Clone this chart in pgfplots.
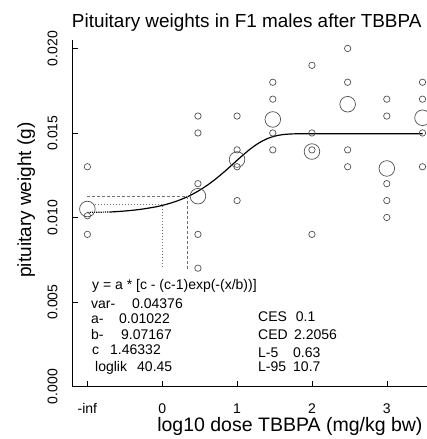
\documentclass[border=0pt]{standalone}
\usepackage{fontspec}
\setmainfont{Liberation Sans}
\usepackage{graphicx}
\usepackage{pgfplots}
\pgfplotsset{compat=1.18}
\definecolor{ptgray}{HTML}{505050}
\definecolor{lngray}{HTML}{707070}
\begin{document}
\begin{tikzpicture}
\begin{axis}[
  at={(0pt,0pt)}, anchor=south west,
  scale only axis, width=354.3pt, height=346.5pt,
  xmin=-1.196, xmax=3.537, ymin=0, ymax=0.0205,
  axis x line*=bottom, axis y line*=left,
  axis line style={line width=1.3pt, -},
  tick align=inside, major tick length=5.5pt,
  tick style={line width=0.6pt, black},
  xtick={-1,0,1,2,3}, xticklabels={-inf,0,1,2,3},
  ytick={0,0.005,0.01,0.015,0.02},
  yticklabels={},
  scaled y ticks=false,
  tick label style={font=\fontsize{14}{16}\selectfont},
  xticklabel style={yshift=-27pt, anchor=base},
  xlabel={log10 dose TBBPA (mg/kg bw)},
  xlabel style={at={(axis description cs:0.613,0)}, yshift=-45pt, anchor=base, font=\fontsize{19.5}{22}\selectfont},
]
% individual observations
\addplot[only marks, mark=o, mark size=3.2pt, mark options={ptgray, line width=0.7pt}] coordinates {
(-1,0.013) (-1,0.0101) (-1,0.009)
(0.477,0.016) (0.477,0.015) (0.477,0.012) (0.477,0.009) (0.477,0.007)
(1,0.016) (1,0.014) (1,0.013) (1,0.011)
(1.477,0.018) (1.477,0.017) (1.477,0.015) (1.477,0.014)
(2,0.019) (2,0.015) (2,0.014) (2,0.009)
(2.477,0.020) (2.477,0.018) (2.477,0.014) (2.477,0.013)
(3,0.017) (3,0.016) (3,0.012) (3,0.011) (3,0.010)
(3.477,0.018) (3.477,0.017) (3.477,0.015) (3.477,0.013)
};
% group means
\addplot[only marks, mark=o, mark size=7.8pt, mark options={ptgray, line width=0.7pt}] coordinates {
(-1,0.0105) (0.477,0.01126) (1,0.01343) (1.477,0.0158) (2,0.0139) (2.477,0.0167) (3,0.0129) (3.477,0.0159)
};
% fitted curve
\addplot[black, line width=1.2pt, densely dotted] coordinates {(-1,0.01030) (-0.7,0.010323)};
\addplot[black, line width=1.2pt, smooth] coordinates {
(-0.7,0.010323) (-0.5,0.010382) (-0.3,0.010475) (-0.1,0.010617) (0,0.010714)
(0.1,0.010834) (0.2,0.010979) (0.3,0.011155) (0.4,0.011365) (0.5,0.011614)
(0.6,0.011902) (0.7,0.012230) (0.8,0.012593) (0.9,0.012982) (1.0,0.013383)
(1.1,0.013773) (1.2,0.014130) (1.3,0.014430) (1.4,0.014658) (1.5,0.014810)
(1.6,0.014896) (1.7,0.014936) (1.8,0.014951) (2.0,0.014955) (3.477,0.014955)
};
% CED lines
\addplot[lngray, line width=0.9pt, dash pattern=on 3pt off 2pt] coordinates {(-1,0.011242) (0.3435,0.011242) (0.3435,0.00698)};
\addplot[lngray, line width=1pt, dotted] coordinates {(-0.9,0.01077) (0,0.01077) (0,0.00698)};
\end{axis}
% y tick labels and y label (rotated with graphicx)
\begin{scope}[every node/.style={anchor=east, inner sep=0pt, font=\fontsize{14}{16}\selectfont}]
\node at (-15pt,0pt) {\rotatebox{90}{0.000}};
\node at (-15pt,84.5pt) {\rotatebox{90}{0.005}};
\node at (-15pt,169pt) {\rotatebox{90}{0.010}};
\node at (-15pt,253.5pt) {\rotatebox{90}{0.015}};
\node at (-15pt,338pt) {\rotatebox{90}{0.020}};
\end{scope}
\node[anchor=east, inner sep=0pt, font=\fontsize{19}{22}\selectfont] at (-37.5pt,186.5pt) {\rotatebox{90}{pituitary weight (g)}};
\begin{scope}[every node/.style={anchor=base west, inner sep=0pt, font=\fontsize{14}{16}\selectfont}]
\node at (19.3pt,96.5pt) {y = a * [c - (c-1)exp(-(x/b))]};
\node at (18.3pt,78pt) {var-}; \node at (59.3pt,78pt) {0.04376};
\node at (18.3pt,62.5pt) {a-}; \node at (46.3pt,62.5pt) {0.01022};
\node at (18.3pt,46.5pt) {b-}; \node at (48.3pt,46.5pt) {9.07167};
\node at (19.3pt,31.5pt) {c}; \node at (37.3pt,31.5pt) {1.46332};
\node at (22.3pt,14.5pt) {loglik}; \node at (64.3pt,14.5pt) {40.45};
\node at (185.3pt,64.5pt) {CES}; \node at (223pt,64.5pt) {0.1};
\node at (185.3pt,46.5pt) {CED}; \node at (221.3pt,46.5pt) {2.2056};
\node at (185.3pt,28.5pt) {L-5}; \node at (220.3pt,28.5pt) {0.63};
\node at (185.3pt,14.5pt) {L-95}; \node at (220.3pt,14.5pt) {10.7};
\end{scope}
\node[anchor=base, inner sep=0pt, font=\fontsize{18.9}{22}\selectfont] at (174pt,358.5pt) {Pituitary weights in F1 males after TBBPA};
\pgfresetboundingbox
\path[use as bounding box] (-72.7pt,-52.5pt) rectangle (354.3pt,386.5pt);
\end{tikzpicture}
\end{document}
